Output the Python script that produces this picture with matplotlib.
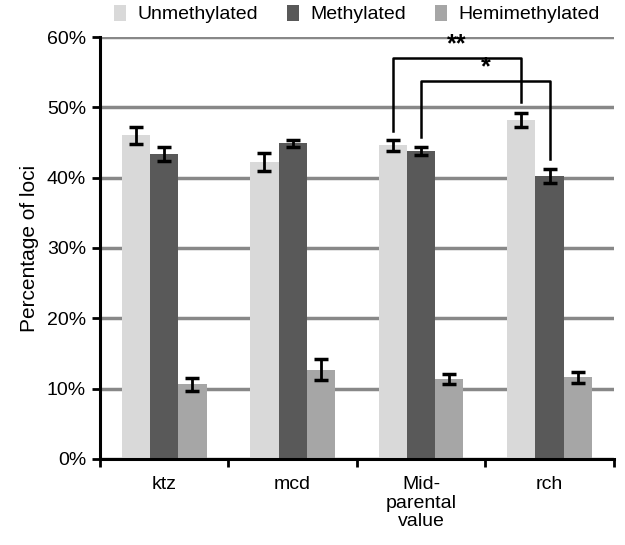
import matplotlib
matplotlib.use('Agg')
import matplotlib.pyplot as plt
import numpy as np

plt.rcParams['font.family'] = ['Liberation Sans', 'DejaVu Sans']

categories = ['ktz', 'mcd', 'Mid-\nparental\nvalue', 'rch']
series = ['Unmethylated', 'Methylated', 'Hemimethylated']
unmethylated = [46.0, 42.2, 44.6, 48.2]
unmethylated_err = [1.2, 1.3, 0.8, 1.0]
methylated = [43.3, 44.9, 43.8, 40.3]
methylated_err = [1.0, 0.5, 0.6, 1.0]
hemimethylated = [10.6, 12.7, 11.4, 11.6]
hemimethylated_err = [0.9, 1.5, 0.7, 0.8]

colors = ['#d9d9d9', '#595959', '#a6a6a6']

fig = plt.figure(figsize=(6.25, 5.45), dpi=100)
ax = fig.add_axes([0.16, 0.158, 0.822, 0.774])

x = np.arange(len(categories))
w = 0.22
data = [(unmethylated, unmethylated_err), (methylated, methylated_err),
        (hemimethylated, hemimethylated_err)]
for i, (vals, errs) in enumerate(data):
    ax.bar(x + (i - 1) * w, vals, w, color=colors[i], label=series[i], zorder=2)
    ax.errorbar(x + (i - 1) * w, vals, yerr=errs, fmt='none', ecolor='black',
                elinewidth=2, capsize=5, capthick=2.5, zorder=3)

ax.set_ylim(0, 60)
ax.set_xlim(-0.5, 3.5)
ax.set_yticks(np.arange(0, 61, 10))
ax.set_yticklabels(['%d%%' % v for v in range(0, 61, 10)], fontsize=14)
ax.yaxis.grid(True, color='#888888', linewidth=2.5, zorder=0)
ax.set_axisbelow(True)
ax.set_xticks(x)
ax.set_xticklabels(categories, fontsize=14, linespacing=1.15)
ax.set_xticks(np.arange(-0.5, 3.6, 1), minor=True)
ax.tick_params(axis='x', which='major', length=0, pad=12)
ax.tick_params(axis='x', which='minor', length=6, width=2, direction='out')
ax.tick_params(axis='y', length=6, width=2, direction='out', pad=4)
for s in ['top', 'right']:
    ax.spines[s].set_visible(False)
for s in ['left', 'bottom']:
    ax.spines[s].set_linewidth(2.2)
ax.set_ylabel('Percentage of loci', fontsize=15, labelpad=6)

# significance brackets
def bracket(x1, x2, y, y1, y2, text):
    ax.plot([x1, x1, x2, x2], [y1, y, y, y2], color='black', linewidth=1.8,
            zorder=4, clip_on=False)
    ax.text((x1 + x2) / 2, y + 0.2, text, ha='center', va='bottom',
            fontsize=18, fontweight='bold', zorder=4)

bracket(2 - w, 3 - w, 57.0, 46.7, 50.7, '**')
bracket(2, 3, 53.8, 45.8, 42.6, '*')

ax.legend(loc='lower center', bbox_to_anchor=(0.5, 1.0), ncol=3, frameon=False,
          fontsize=14, handlelength=0.6, handleheight=0.9, handletextpad=0.6,
          columnspacing=1.5, borderaxespad=0.3)

plt.savefig('out.png', dpi=100)
